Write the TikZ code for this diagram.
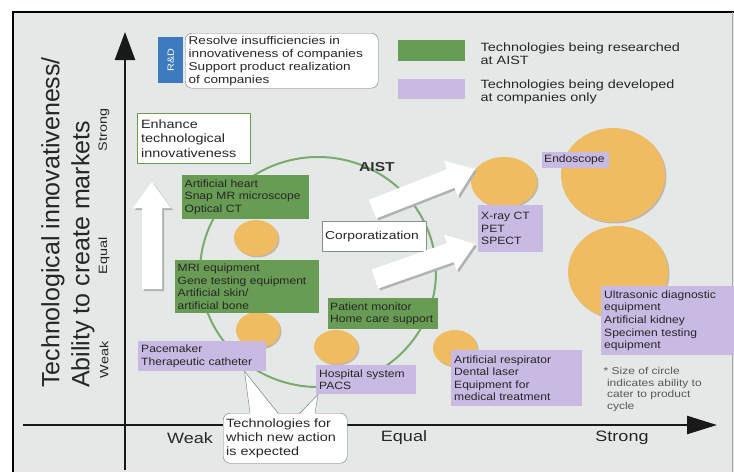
\documentclass[tikz,border=0pt]{standalone}
\usepackage{fontspec}
\setmainfont{Liberation Sans}
\newfontfamily\wf[FakeStretch=1.2]{Liberation Sans}
\newfontfamily\wfb[FakeStretch=1.14]{Liberation Sans}
\usetikzlibrary{shapes.geometric,shadows,calc,arrows.meta}
\definecolor{bgc}{RGB}{228,233,232}
\definecolor{grn}{RGB}{104,156,84}
\definecolor{grnl}{RGB}{122,170,108}
\definecolor{purp}{RGB}{200,186,226}
\definecolor{orng}{RGB}{240,188,98}
\definecolor{blu}{RGB}{62,122,190}
\newcommand\fatarrow[4]{%
  \begin{scope}[shift={(#1+2,#2+2)},rotate=#3]
    \fill[black!30] (0,0) -- (-26,19) -- (-26,10) -- (-#4,10) -- (-#4,-10) -- (-26,-10) -- (-26,-19) -- cycle;
  \end{scope}
  \begin{scope}[shift={(#1,#2)},rotate=#3]
    \fill[white] (0,0) -- (-26,19) -- (-26,10) -- (-#4,10) -- (-#4,-10) -- (-26,-10) -- (-26,-19) -- cycle;
  \end{scope}}
\begin{document}
\begin{tikzpicture}[x=1pt,y=-1pt,
  txt/.style={font=\wfb\fontsize{10.6}{12.6}\selectfont, align=left, inner sep=2.5pt, text=black!85, anchor=north west,
    execute at begin node={\hyphenpenalty=10000\exhyphenpenalty=10000\hbadness=10000}},
  gbox/.style={txt, fill=grn},
  pbox/.style={txt, fill=purp},
  orb/.style={ellipse, fill=orng, inner sep=0pt, drop shadow={shadow xshift=1.5pt, shadow yshift=-1.5pt, fill=brown!70!black, opacity=0.35}},
  tick/.style={font=\wf\fontsize{15}{17}\selectfont, text=black!85},
  ytick/.style={rotate=90, font=\wf\fontsize{12}{14}\selectfont, text=black!85},
  axis/.style={line width=2.5pt, draw=black!90}]
\useasboundingbox (0,0) rectangle (734,472);
\fill[bgc] (13,12) rectangle (734,472);
\draw[line width=2.5pt] (734,12) -- (13,12) -- (13,472);
\draw[black!35] (732,12) -- (732,472);

% AIST circle
\node[ellipse, draw=grnl, line width=2pt, minimum width=236, minimum height=230] (aist) at (318,272) {};
\node[font=\wf\fontsize{13}{15}\selectfont\bfseries, text=black!80] (aistl) at (377,167) {AIST};

% axes
\coordinate (yb) at (125,470);
\coordinate (yt) at (125,32);
\coordinate (xl) at (23,425);
\coordinate (xr) at (717,425);
\draw[axis, -{Triangle[length=28pt,width=20pt]}] (yb) -- (yt);
\draw[axis, -{Triangle[length=30pt,width=18pt]}] (xl) -- (xr);

% axis titles
\node[rotate=90, anchor=north west, align=left, inner sep=0pt, font=\fontsize{25}{30}\selectfont, text=black!85] (ttl) at (41,388) {Technological innovativeness/\\Ability to create markets};
\node[ytick] (ys) at (104,130) {Strong};
\node[ytick] (ye) at (104,256) {Equal};
\node[ytick] (yw) at (104,360) {Weak};
\node[tick] (xw) at (190,438) {Weak};
\node[tick] (xe) at (404,438) {Equal};
\node[tick] (xs) at (622,438) {Strong};

% top notes and legend
\node[txt, draw=black!55, fill=white, rounded corners=7pt, minimum width=193, minimum height=55, text width=186, font=\wf\fontsize{11.3}{13}\selectfont] (res) at (185,33) {Resolve insufficiencies in\\innovativeness of companies\\Support product realization\\of companies};
\node[anchor=north west, fill=blu, minimum width=25, minimum height=46, inner sep=0pt] (blue) at (158,37) {};
\node[rotate=90, text=white, font=\wf\fontsize{9}{10}\selectfont] (bluet) at (blue.center) {R\&D};
\node[anchor=north west, fill=grn, minimum width=67, minimum height=21, inner sep=0pt] (lg1) at (398,40) {};
\node[txt, font=\wf\fontsize{12}{13}\selectfont] (lg1t) at (478,40) {Technologies being researched\\at AIST};
\node[anchor=north west, fill=purp, minimum width=67, minimum height=20, inner sep=0pt] (lg2) at (398,79) {};
\node[txt, font=\wf\fontsize{12}{13}\selectfont] (lg2t) at (478,77) {Technologies being developed\\at companies only};

\node[txt, fill=white, draw=grn, line width=1.2pt, minimum width=113, minimum height=50, text width=106, font=\wf\fontsize{12}{14.5}\selectfont] (enh) at (137,113) {Enhance\\technological\\innovativeness};

% circles
\node[orb, minimum width=44, minimum height=36] (c1) at (256,238) {};
\node[orb, minimum width=44, minimum height=36] (c2) at (258,330) {};
\node[orb, minimum width=44, minimum height=34] (c3) at (336,347) {};
\node[orb, minimum width=44, minimum height=36] (c4) at (455,348) {};
\node[orb, minimum width=66, minimum height=50] (cA) at (504,182) {};
\node[orb, minimum width=104, minimum height=94] (cB) at (613,175) {};
\node[orb, minimum width=100, minimum height=92] (cC) at (618,272) {};

% green boxes
\node[gbox, minimum width=127, minimum height=44, text width=122] (g1) at (182,175) {Artificial heart\\Snap MR microscope\\Optical CT};
\node[gbox, minimum width=144, minimum height=53, text width=139] (g2) at (175,260) {MRI equipment\\Gene testing equipment\\Artificial skin/\\artificial bone};
\node[gbox, minimum width=110, minimum height=31, text width=106, inner xsep=2pt] (g3) at (328,298) {Patient monitor\\Home care support};

% purple boxes
\node[pbox, minimum width=128, minimum height=30, text width=122] (pace) at (138,341) {Pacemaker\\Therapeutic catheter};
\node[pbox, minimum width=100, minimum height=29, text width=94] (hosp) at (316,365) {Hospital system\\PACS};
\node[pbox, minimum width=131, minimum height=56, text width=125] (resp) at (451,350) {Artificial respirator\\Dental laser\\Equipment for\\medical treatment};
\node[pbox, minimum width=133, minimum height=69, text width=127] (ultra) at (601,286) {Ultrasonic diagnostic\\equipment\\Artificial kidney\\Specimen testing\\equipment};
\node[pbox, minimum width=67, minimum height=16, inner sep=1.5pt, text width=63] (endo) at (542,152) {Endoscope};
\node[pbox, minimum width=65, minimum height=47, text width=59] (xray) at (478,205) {X-ray CT\\PET\\SPECT};

\node[txt, fill=white, draw=black!45, minimum width=104, minimum height=30, text width=98, font=\wf\fontsize{11.5}{13}\selectfont] (corp) at (322,221) {Corporatization};

\node[txt, text=black!65, font=\wf\fontsize{10}{11.5}\selectfont] (note) at (601,365) {* Size of circle\\\ indicates ability to\\\ cater to product\\\ cycle};

% white arrows
\fatarrow{152}{182}{90}{107}
\fatarrow{475}{169}{21.4}{110}
\fatarrow{475}{244}{19.3}{106}

% callout
\node[txt, fill=white, draw=black!55, rounded corners=7pt, minimum width=124, minimum height=50, text width=118, font=\wf\fontsize{12}{14}\selectfont] (cb) at (223,413) {Technologies for\\which new action\\is expected};
\coordinate (p1) at ($(pace.south west)!0.83!(pace.south east)$);
\coordinate (p2) at ($(hosp.south west)+(2,0)$);
\coordinate (a1) at ($(cb.north west)+(27,0)$);
\coordinate (a2) at ($(cb.north west)+(55,0)$);
\coordinate (b1) at ($(cb.north west)+(77,0)$);
\coordinate (b2) at ($(cb.north west)+(92,0)$);
\fill[white] (p1) -- ($(a1)+(0,1.5)$) -- ($(a2)+(0,1.5)$) -- cycle;
\draw[black!55] (a1) -- (p1) -- (a2);
\fill[white] (p2) -- ($(b1)+(0,1.5)$) -- ($(b2)+(0,1.5)$) -- cycle;
\draw[black!55] (b1) -- (p2) -- (b2);
\end{tikzpicture}
\end{document}
